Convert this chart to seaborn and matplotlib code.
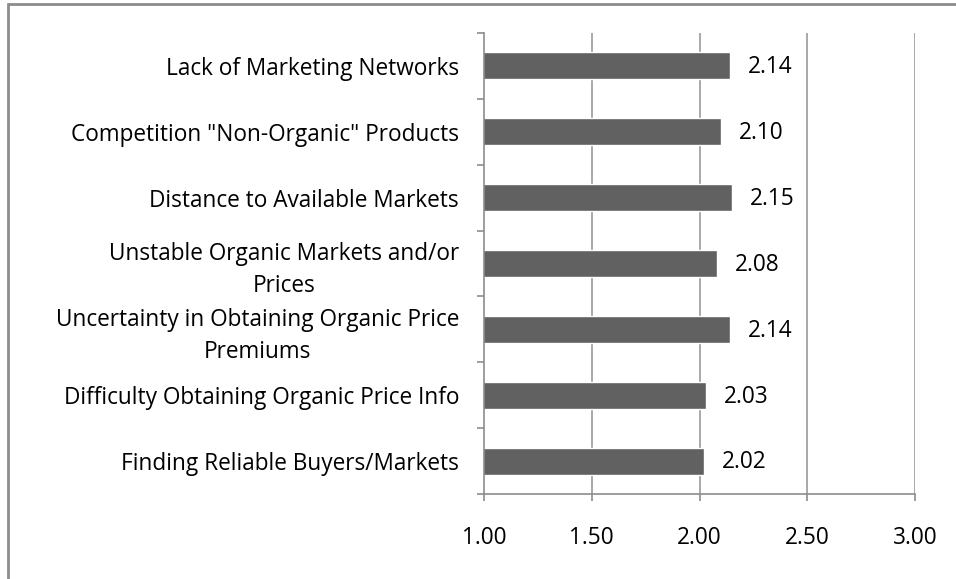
import matplotlib
matplotlib.use("Agg")
import matplotlib.pyplot as plt
import seaborn as sns
import pandas as pd
from matplotlib.patches import Rectangle

categories = [
    "Lack of Marketing Networks",
    "Competition \"Non-Organic\" Products",
    "Distance to Available Markets",
    "Unstable Organic Markets and/or\nPrices",
    "Uncertainty in Obtaining Organic Price\nPremiums",
    "Difficulty Obtaining Organic Price Info",
    "Finding Reliable Buyers/Markets",
]
values = [2.14, 2.10, 2.15, 2.08, 2.14, 2.03, 2.02]
xticks = [1.00, 1.50, 2.00, 2.50, 3.00]

df = pd.DataFrame({"category": categories, "value": values})

sns.set_theme(style="white")
plt.rcParams["font.family"] = ["Open Sans", "DejaVu Sans"]

FS = 16.3
fig = plt.figure(figsize=(9.56, 5.79), dpi=100)
ax = fig.add_axes([484 / 956, 1 - 494 / 579, 431 / 956, 461 / 579])

sns.barplot(data=df, x="value", y="category", order=categories, orient="h",
            color="#616161", saturation=1, width=0.41, ax=ax)

ax.set_xlim(1.0, 3.0)
ax.set_ylim(len(categories) - 0.5, -0.5)
ax.set_xticks(xticks)
ax.set_xticklabels([f"{v:.2f}" for v in xticks], fontsize=FS, color="black")
ax.set_xlabel("")
ax.set_ylabel("")

ax.set_yticks(range(len(categories)))
ax.set_yticklabels(categories, fontsize=FS, color="black")
for lab in ax.get_yticklabels():
    lab.set_multialignment("center")
    lab.set_linespacing(1.4)
ax.tick_params(axis="y", length=0, pad=18)
ax.tick_params(axis="x", length=5, color="#8c8c8c", width=1.2, pad=18, direction="out", bottom=True)

# minor y ticks at category boundaries
ax.set_yticks([i - 0.5 for i in range(len(categories) + 1)], minor=True)
ax.tick_params(axis="y", which="minor", length=5, color="#8c8c8c", width=1.2, left=True, direction="out")

for x in xticks[1:]:
    ax.axvline(x, color="#9a9a9a", lw=1.2, zorder=0)

for s in ["top", "right"]:
    ax.spines[s].set_visible(False)
for s in ["left", "bottom"]:
    ax.spines[s].set_color("#8c8c8c")
    ax.spines[s].set_linewidth(1.2)

for i, v in enumerate(values):
    ax.annotate(f"{v:.2f}", xy=(v, i), xytext=(13, -1), textcoords="offset points",
                ha="left", va="center", fontsize=FS, color="black")

fig.patches.append(Rectangle((8 / 956, -0.05), 1.2, 1.05 - 3.5 / 579,
                             transform=fig.transFigure, fill=False,
                             edgecolor="#8c8c8c", lw=2, figure=fig))

fig.savefig("out.png", dpi=100)
